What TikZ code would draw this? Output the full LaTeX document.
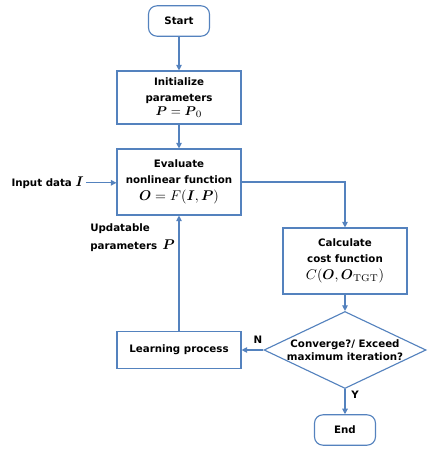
\documentclass[tikz,border=0pt]{standalone}
\usepackage{amsmath}
\usepackage[no-math]{fontspec}
\setmainfont{DejaVu Sans}
\usetikzlibrary{arrows.meta,shapes.geometric}
\definecolor{lineblue}{RGB}{84,130,190}
\tikzset{
  blk/.style={draw=lineblue,line width=.8pt,fill=white,minimum width=3.1cm,align=center,inner sep=1pt},
  term/.style={draw=lineblue,line width=.8pt,fill=white,rounded corners=6pt,minimum width=1.525cm,minimum height=.76cm},
  dec/.style={draw=lineblue,line width=.8pt,fill=white,diamond,aspect=2.1,minimum width=4.05cm,minimum height=1.925cm,inner sep=0pt,align=center},
  arr/.style={draw=lineblue,line width=.8pt,-{Triangle[length=4pt,width=4pt]}}
}
\begin{document}
\begin{tikzpicture}[font=\fontsize{7.3}{11}\selectfont\bfseries]
\useasboundingbox (0,0) rectangle (10.9,11.35);
\node[term] (start) at (4.475,10.825) {Start};
\node[blk,minimum height=1.325cm] (init) at (4.475,8.9125) {Initialize\\parameters\\[-1pt]{\fontsize{9.5}{10}\selectfont$\boldsymbol{P}=\boldsymbol{P}_0$}};
\node[blk,minimum height=1.65cm] (eval) at (4.475,6.8) {Evaluate\\nonlinear function\\[1pt]{\fontsize{9.8}{11}\selectfont$\boldsymbol{O}=F(\boldsymbol{I},\boldsymbol{P})$}};
\node[blk,minimum height=1.65cm] (cost) at (8.625,4.825) {Calculate\\cost function\\[1pt]{\fontsize{9.8}{11}\selectfont$C(\boldsymbol{O},\boldsymbol{O}_{\mathrm{TGT}})$}};
\node[dec,font=\fontsize{7.3}{9.5}\selectfont\bfseries] (conv) at (8.625,2.6) {Converge?/ Exceed\\maximum iteration?};
\node[blk,minimum height=.925cm] (learn) at (4.475,2.6) {Learning process};
\node[term] (end) at (8.625,.6) {End};
\node[anchor=east,inner sep=0pt] (input) at (2.1,6.78) {Input data {\fontsize{10}{11}\selectfont$\boldsymbol{I}$}};
\node[anchor=west,align=left,inner sep=0pt] (upd) at (2.25,5.4) {Updatable\\[2pt]parameters\enspace{\fontsize{10}{11}\selectfont$\boldsymbol{P}$}};
\node (nlbl) at (6.45,2.85) {N};
\node (ylbl) at (8.875,1.475) {Y};
\draw[arr] (start) -- (init);
\draw[arr] (init) -- (eval);
\draw[arr] (input.east) ++(.05,0) coordinate (inp) -- (inp -| eval.west);
\draw[arr] (eval.east) -| (cost.north);
\draw[arr] (cost) -- (conv);
\draw[arr] (conv) -- (end);
\draw[arr] (conv) -- (learn);
\draw[arr] (learn) -- (eval);
\end{tikzpicture}
\end{document}
